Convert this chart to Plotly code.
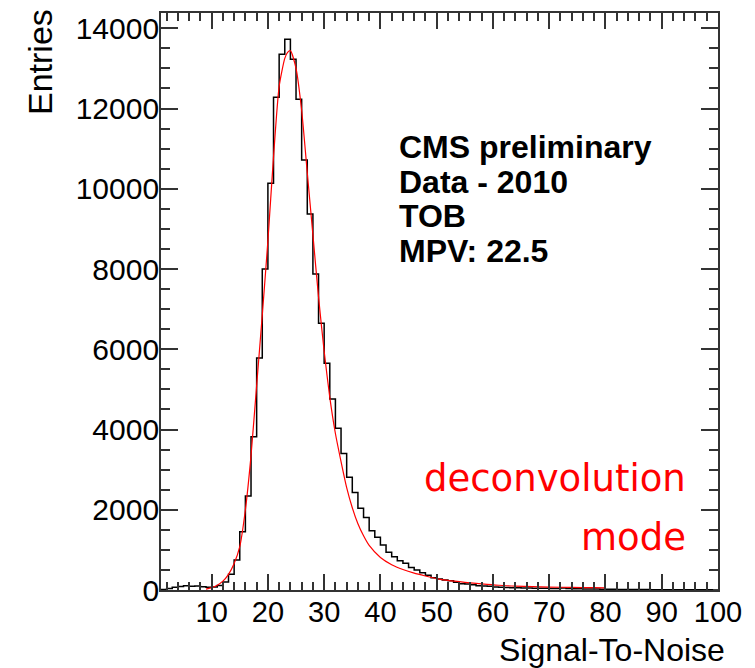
import plotly.graph_objects as go

# Histogram: bin low edges (width 1) and entries
bin_edges = list(range(1, 101))
counts = [10, 40, 70, 90, 105, 95, 100, 80, 70, 75,
          110, 200, 390, 745, 1452, 2342, 3822, 5785, 8000, 10137,
          12280, 13352, 13726, 13227, 12231, 10718, 9372, 7876, 6647, 5650,
          4761, 4030, 3400, 2809, 2430, 2036, 1808, 1475, 1313, 1122,
          939, 831, 731, 665, 560, 498, 430, 365, 307, 274,
          249, 233, 191, 158, 150, 133, 108, 100, 91, 75,
          66, 62, 58, 55, 52, 50, 46, 44, 42, 40,
          38, 50, 35, 32, 30, 27, 25, 22, 20, 18,
          16, 15, 14, 13, 12, 11, 10, 9, 8, 8,
          7, 7, 6, 6, 5, 5, 4, 4, 3]

# Fit curve
fit_x = [9, 10, 11, 12, 13, 14, 15, 16, 17, 18, 19, 20, 21, 22, 23, 23.5, 24, 25, 26, 27,
         28, 29, 30, 31, 32, 33, 34, 35, 36, 37, 38, 40, 42, 44, 46, 48, 50, 52, 55, 58,
         61, 64, 67, 70, 74, 78, 80]
fit_y = [20, 60, 120, 220, 390, 660, 1080, 2000, 3350, 5100, 6850, 8700, 10800, 12550, 13250, 13400, 13440, 13000, 11950, 10400,
         8850, 7300, 5950, 4800, 3900, 3200, 2550, 2050, 1650, 1350, 1110, 810, 630, 510, 420, 350, 285, 240, 192, 152,
         118, 98, 84, 74, 64, 58, 55]

x_ticks = [10, 20, 30, 40, 50, 60, 70, 80, 90, 100]
y_ticks = [0, 2000, 4000, 6000, 8000, 10000, 12000, 14000]
y_tick_labels = ["0", "2000", "4000", "6000", "8000", "10000", "12000", "14000"]

info_lines = ["CMS preliminary", "Data - 2010", "TOB", "MPV: 22.5"]
mode_lines = ["deconvolution", "mode"]

W, H = 755, 668
L, R, T, B = 161, 718, 13, 590
pw, ph = R - L, B - T

def px(xp):
    return (xp - L) / pw

def py(yp):
    return (B - yp) / ph

fig = go.Figure()
fig.add_trace(go.Scatter(
    x=bin_edges + [bin_edges[-1] + 1],
    y=counts + [counts[-1]],
    mode="lines", line=dict(color="black", width=1.5, shape="hv"),
    showlegend=False, hoverinfo="skip"))
fig.add_trace(go.Scatter(
    x=fit_x, y=fit_y, mode="lines",
    line=dict(color="#ff0000", width=1.2, shape="spline", smoothing=0.6),
    showlegend=False, hoverinfo="skip"))

axcol = "#333333"
font_family = "Liberation Sans, Arial, sans-serif"

fig.update_layout(
    width=W, height=H,
    margin=dict(l=L, r=W - R, t=T, b=H - B),
    paper_bgcolor="white", plot_bgcolor="white",
    font=dict(family=font_family, color="black"),
    xaxis=dict(range=[1, 100], tickvals=x_ticks, ticks="inside", ticklen=16,
               tickwidth=1.5, tickcolor=axcol, showline=True, linecolor=axcol,
               linewidth=1.8, mirror="ticks", showgrid=False, zeroline=False,
               ticklabelstandoff=-5,
               tickfont=dict(size=29, family=font_family, color="black"),
               minor=dict(dtick=2, tick0=0, ticks="inside", ticklen=8,
                          tickwidth=1.5, tickcolor=axcol, showgrid=False)),
    yaxis=dict(range=[0, 14380], tickvals=y_ticks, ticktext=y_tick_labels,
               ticks="inside", ticklen=17, ticklabelstandoff=-6,
               tickwidth=1.5, tickcolor=axcol, showline=True, linecolor=axcol,
               linewidth=1.8, mirror="ticks", showgrid=False, zeroline=False,
               tickfont=dict(size=30, family=font_family, color="black"),
               minor=dict(dtick=500, tick0=0, ticks="inside", ticklen=9,
                          tickwidth=1.5, tickcolor=axcol, showgrid=False)),
)

ann = []
ann.append(dict(text="Entries", xref="paper", yref="paper", x=px(40), y=py(7),
                xanchor="center", yanchor="top", textangle=-90, showarrow=False,
                font=dict(size=34, family=font_family, color="black")))
ann.append(dict(text="Signal-To-Noise", xref="paper", yref="paper", x=px(727), y=py(650),
                xanchor="right", yanchor="middle", showarrow=False,
                font=dict(size=32, family=font_family, color="black")))
for i, t in enumerate(info_lines):
    ann.append(dict(text="<b>" + t + "</b>", xref="paper", yref="paper",
                    x=px(397), y=py(147 + 34.6 * i), xanchor="left", yanchor="middle",
                    showarrow=False, font=dict(size=32, family=font_family, color="black")))
for i, t in enumerate(mode_lines):
    ann.append(dict(text=t, xref="paper", yref="paper",
                    x=px(688), y=py(478 + 59 * i), xanchor="right", yanchor="middle",
                    showarrow=False, font=dict(size=37, family="DejaVu Sans", color="#ff0000")))
fig.update_layout(annotations=ann)

fig.write_html("out.html")
